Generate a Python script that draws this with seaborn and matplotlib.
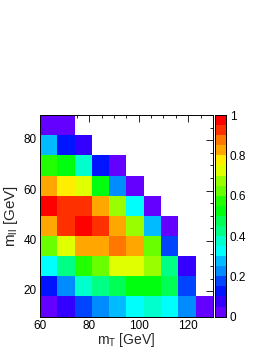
import colorsys
import numpy as np
import matplotlib
matplotlib.use("Agg")
import matplotlib.pyplot as plt
from matplotlib.colors import ListedColormap
from matplotlib.ticker import FixedLocator, FixedFormatter
import seaborn as sns

nan = np.nan

# bin edges of the 2D histogram
mt_bins = [60, 67, 74, 81, 88, 95, 102, 109, 116, 123, 130]
mll_bins = [10, 18, 26, 34, 42, 50, 58, 66, 74, 82, 90]

# normalised content, rows from lowest m_ll bin upwards
row_10_18 = [0.03, 0.08, 0.17, 0.22, 0.28, 0.33, 0.38, 0.33, 0.22, 0.03]
row_18_26 = [0.12, 0.22, 0.37, 0.42, 0.47, 0.52, 0.52, 0.47, 0.17, nan]
row_26_34 = [0.33, 0.42, 0.57, 0.62, 0.72, 0.72, 0.68, 0.42, 0.08, nan]
row_34_42 = [0.62, 0.72, 0.82, 0.82, 0.88, 0.82, 0.62, 0.17, nan, nan]
row_42_50 = [0.82, 0.92, 0.97, 0.92, 0.82, 0.68, 0.28, 0.03, nan, nan]
row_50_58 = [0.97, 0.92, 0.92, 0.82, 0.68, 0.33, 0.03, nan, nan, nan]
row_58_66 = [0.82, 0.78, 0.72, 0.52, 0.22, 0.03, nan, nan, nan, nan]
row_66_74 = [0.57, 0.52, 0.38, 0.12, 0.03, nan, nan, nan, nan, nan]
row_74_82 = [0.28, 0.12, 0.08, nan, nan, nan, nan, nan, nan, nan]
row_82_90 = [0.03, 0.03, nan, nan, nan, nan, nan, nan, nan, nan]

x_ticks = [60, 80, 100, 120]
y_ticks = [20, 40, 60, 80]
z_ticks = [0, 0.2, 0.4, 0.6, 0.8, 1]
z_labels = ["0", "0.2", "0.4", "0.6", "0.8", "1"]

content = np.array([row_10_18, row_18_26, row_26_34, row_34_42, row_42_50,
                    row_50_58, row_58_66, row_66_74, row_74_82, row_82_90])

# ROOT "pretty" palette (50 hues) sampled for 20 contour levels
colors = []
for k in range(20):
    idx = int((k + 0.99) * 50 / 20)
    hue = 280 - (idx + 1) * 5.6
    colors.append(colorsys.hls_to_rgb(hue / 360.0, 0.5, 1.0))
cmap = ListedColormap(colors)

sns.set_style("white")
plt.rcParams["font.family"] = ["Liberation Sans", "DejaVu Sans"]
plt.rcParams["mathtext.fontset"] = "custom"
plt.rcParams["mathtext.rm"] = "Liberation Sans"
plt.rcParams["mathtext.it"] = "Liberation Sans"

fig = plt.figure(figsize=(2.74, 3.55), dpi=100)
ax = fig.add_axes([0.146, 0.108, 0.631, 0.568])
cax = fig.add_axes([0.783, 0.108, 0.041, 0.568])

sns.heatmap(content, ax=ax, cbar_ax=cax, cmap=cmap, vmin=0, vmax=1,
            linewidths=0, square=False)
ax.invert_yaxis()


def to_x(v):
    return np.interp(v, mt_bins, np.arange(len(mt_bins)))


def to_y(v):
    return np.interp(v, mll_bins, np.arange(len(mll_bins)))


ax.xaxis.set_major_locator(FixedLocator(to_x(x_ticks)))
ax.xaxis.set_major_formatter(FixedFormatter([str(t) for t in x_ticks]))
ax.xaxis.set_minor_locator(FixedLocator(to_x(np.arange(60, 131, 5))))
ax.yaxis.set_major_locator(FixedLocator(to_y(y_ticks)))
ax.yaxis.set_major_formatter(FixedFormatter([str(t) for t in y_ticks]))
ax.yaxis.set_minor_locator(FixedLocator(to_y(np.arange(10, 91, 5))))
ax.set_xlim(0, len(mt_bins) - 1)
ax.set_ylim(0, len(mll_bins) - 1)

ax.tick_params(which="both", direction="in", top=True, right=True,
               bottom=True, left=True, colors="black", labelsize=8.5,
               labelrotation=0, width=0.6)
ax.tick_params(which="major", length=5, pad=2.5)
ax.tick_params(which="minor", length=2.5)
for s in ax.spines.values():
    s.set_visible(True)
    s.set_color("black")
    s.set_linewidth(0.7)

ax.set_xlabel(r"$\mathrm{m_{T}}$ [GeV]", fontsize=10, va="center")
ax.set_ylabel(r"$\mathrm{m_{ll}}$ [GeV]", fontsize=11, va="center")
ax.xaxis.set_label_coords(0.5, -0.117)
ax.yaxis.set_label_coords(-0.168, 0.5)

cax.yaxis.set_major_locator(FixedLocator(z_ticks))
cax.yaxis.set_major_formatter(FixedFormatter(z_labels))
cax.tick_params(direction="in", length=3, width=0.6, labelsize=8.5, pad=3,
                colors="black")
for s in cax.spines.values():
    s.set_visible(True)
    s.set_color("black")
    s.set_linewidth(0.7)

fig.savefig("out.png", dpi=100)
